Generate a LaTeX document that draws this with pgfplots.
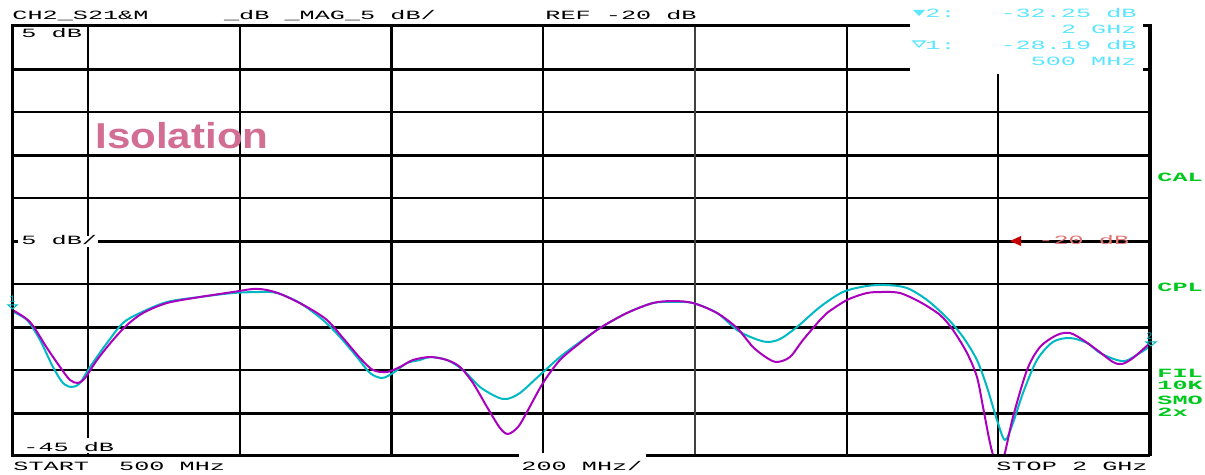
\documentclass[border=0pt]{standalone}
\usepackage{pgfplots}
\pgfplotsset{compat=1.18}
\usepackage{fontspec}
\setmainfont{Liberation Sans}
\newfontfamily\monof{Liberation Mono}
% wide analyser-style lettering, 15 px pitch
\newcommand\hp[1]{\scalebox{2}[1]{\monof\fontsize{6.3}{7}\selectfont #1}}
\newcommand\hpb[1]{\scalebox{2}[1]{\monof\bfseries\fontsize{6.3}{7}\selectfont #1}}

\definecolor{trmag}{RGB}{170,0,190}
\definecolor{trcyan}{RGB}{0,185,195}
\definecolor{mkcyan}{RGB}{90,230,255}
\definecolor{stgreen}{RGB}{0,200,30}
\definecolor{isopink}{RGB}{210,110,145}
\definecolor{refred}{RGB}{200,0,0}

\begin{document}
\begin{tikzpicture}[x=0.5pt,y=-0.5pt]
\useasboundingbox (0,0) rectangle (1205,475);
\begin{axis}[
    at={(6pt,-228pt)}, anchor=south west,
    width=569pt, height=215pt, scale only axis,
    xmin=500, xmax=2000, ymin=-45, ymax=5,
    hide axis, clip=true,
]
% graticule
\foreach \yy in {-35,-25,-15,-5} {
  \edef\tmp{\noexpand\draw[black, line width=1pt] (axis cs:500,\yy) -- (axis cs:2000,\yy);}\tmp
}
\foreach \yy in {-40,-30,-20,-10,0} {
  \edef\tmp{\noexpand\draw[black, line width=1.5pt] (axis cs:500,\yy) -- (axis cs:2000,\yy);}\tmp
}
\foreach \xx in {600,800,1200,1600,1800} {
  \edef\tmp{\noexpand\draw[black, line width=1pt] (axis cs:\xx,-45) -- (axis cs:\xx,5);}\tmp
}
\draw[black, line width=1.5pt] (axis cs:1000,-45) -- (axis cs:1000,5);
\draw[black!75, line width=1pt] (axis cs:1400,-45) -- (axis cs:1400,5);

% trace 2 (cyan)
\addplot[trcyan, line width=1pt, smooth, tension=0.5] coordinates {
(500,-28.19) (519.8,-29.19) (536.9,-31.51) (554.0,-34.65) (567.2,-36.51)
(579.1,-36.98) (589.6,-36.51) (602.8,-34.65) (625.2,-31.86) (646.3,-29.53)
(668.7,-28.37) (704.3,-27.09) (747.8,-26.51) (791.3,-26.05) (826.9,-25.93)
(849.3,-26.05) (879.6,-27.21) (909.9,-29.19) (932.3,-31.16) (954.7,-33.49)
(971.9,-35.35) (987.7,-35.93) (1002.2,-35.35) (1020.6,-34.19) (1037.8,-33.84)
(1051.0,-33.49) (1073.4,-33.84) (1094.5,-35.00) (1116.9,-36.98) (1139.3,-38.14)
(1152.4,-38.37) (1169.6,-37.67) (1195.9,-35.58) (1222.3,-33.49) (1248.7,-31.74)
(1275.0,-30.12) (1310.6,-28.37) (1344.9,-27.21) (1371.3,-27.09) (1397.6,-27.21)
(1429.3,-28.37) (1455.6,-30.35) (1476.7,-31.28) (1495.2,-31.74) (1512.3,-31.40)
(1534.7,-30.00) (1565.0,-27.67) (1595.3,-25.93) (1626.9,-25.23) (1653.3,-25.12)
(1679.7,-25.47) (1706.1,-26.86) (1732.4,-28.95) (1753.5,-31.16) (1771.9,-33.84)
(1785.1,-36.98) (1798.3,-40.81) (1808.8,-43.14) (1819.4,-41.16) (1832.6,-37.67)
(1851.0,-33.84) (1872.1,-31.74) (1894.5,-31.28) (1916.9,-31.86) (1934.1,-33.02)
(1956.5,-33.84) (1971.0,-33.84) (2000,-32.25)
};
% trace 1 (magenta)
\addplot[trmag, line width=1pt, smooth, tension=0.5] coordinates {
(500,-28.00) (523.7,-29.42) (546.1,-32.44) (563.3,-34.65) (576.4,-36.16)
(587.0,-36.51) (596.2,-35.93) (612.0,-33.84) (633.1,-31.51) (651.6,-29.77)
(672.7,-28.37) (704.3,-27.21) (747.8,-26.51) (791.3,-25.93) (817.7,-25.58)
(836.1,-25.70) (857.2,-26.28) (888.8,-27.67) (915.2,-29.19) (936.3,-31.28)
(958.7,-33.60) (975.8,-35.00) (994.3,-35.23) (1011.4,-34.65) (1028.5,-33.84)
(1051.0,-33.49) (1073.4,-33.84) (1090.5,-34.65) (1107.6,-36.51) (1126.1,-39.30)
(1143.2,-41.74) (1153.8,-42.44) (1167.0,-41.63) (1178.8,-39.88) (1199.9,-36.51)
(1222.3,-33.84) (1248.7,-31.86) (1275.0,-30.12) (1310.6,-28.37) (1344.9,-27.21)
(1371.3,-26.98) (1397.6,-27.21) (1429.3,-28.37) (1455.6,-30.12) (1476.7,-32.33)
(1495.2,-33.60) (1508.3,-34.07) (1525.5,-33.49) (1542.6,-31.51) (1565.0,-29.19)
(1574.2,-28.37) (1600.6,-26.86) (1626.9,-26.05) (1648.0,-25.93) (1670.4,-26.05)
(1696.8,-27.09) (1723.2,-28.60) (1740.3,-30.35) (1758.8,-33.02) (1771.9,-35.81)
(1779.9,-39.30) (1789.1,-43.49) (1795.7,-45.40) (1806.2,-45.40) (1819.4,-40.47)
(1837.9,-35.00) (1855.0,-32.33) (1877.4,-30.93) (1894.5,-30.70) (1911.7,-31.51)
(1930.1,-32.67) (1951.2,-34.07) (1963.1,-34.30) (1977.6,-33.60) (2000,-31.86)
};
\end{axis}

% marker panel blanks the upper right corner
\fill[white] (910,0) rectangle (1148,74);
% frame
\draw[line width=1.5pt] (910,26) -- (12,26) -- (12,456) -- (1150,456);
\draw[line width=2pt] (1150,24.5) -- (1150,456);
\draw[line width=1.5pt] (1143,25.5) -- (1150,25.5);
\draw[line width=1.5pt] (1143,70) -- (1150,70);

\tikzset{lab/.style={anchor=base west, inner sep=0pt}}
% header
\node[lab] at (12,20) {\hp{CH2\_S21\&M~~~~~\_dB~\_MAG\_5~dB/}};
\node[lab] at (545,20) {\hp{REF~-20~dB}};
% marker readout
\fill[mkcyan] (913,10) -- (925,10) -- (919,16) -- cycle;
\node[lab, text=mkcyan] at (925,18) {\hp{2:}};
\node[lab, anchor=base east, text=mkcyan] at (1137,18) {\hp{-32.25~dB}};
\node[lab, anchor=base east, text=mkcyan] at (1137,34) {\hp{2~GHz}};
\draw[mkcyan, line width=0.6pt] (913,41) -- (925,41) -- (919,47) -- cycle;
\node[lab, text=mkcyan] at (925,50) {\hp{1:}};
\node[lab, anchor=base east, text=mkcyan] at (1137,50) {\hp{-28.19~dB}};
\node[lab, anchor=base east, text=mkcyan] at (1137,66) {\hp{500~MHz}};
% scale labels
\node[lab] at (21,38) {\hp{5~dB}};
\fill[white] (18,236) rectangle (98,247);
\node[lab] at (21,245) {\hp{5~dB/}};
\fill[white] (20,438) rectangle (112,453);
\node[lab] at (23,452) {\hp{-45~dB}};
% bottom line
\node[lab] at (13,471) {\hp{START~~500~MHz}};
\fill[white] (519,453) rectangle (646,474);
\node[lab] at (521,471) {\hp{200~MHz/}};
\node[lab] at (996,471) {\hp{STOP~2~GHz}};
% status annotations
\node[lab, text=stgreen] at (1157,182) {\hpb{CAL}};
\node[lab, text=stgreen] at (1157,292) {\hpb{CPL}};
\node[lab, text=stgreen] at (1157,378) {\hpb{FIL}};
\node[lab, text=stgreen] at (1157,390) {\hpb{10K}};
\node[lab, text=stgreen] at (1157,405) {\hpb{SMO}};
\node[lab, text=stgreen] at (1157,417) {\hpb{2x}};
% reference level arrow
\fill[refred] (1010,241) -- (1021,236) -- (1021,246) -- cycle;
\node[lab, text=refred!55] at (1038,245) {\hp{-20~dB}};
% marker tags on the traces
\node[lab, text=trcyan] at (9,303) {\monof\fontsize{5}{5}\selectfont 1};
\draw[trcyan, line width=0.5pt] (8,305) -- (17,305) -- (12.5,309) -- cycle;
\node[lab, text=trcyan] at (1146,340) {\monof\fontsize{5}{5}\selectfont 2};
\draw[trcyan, line width=0.5pt] (1146,342) -- (1156,342) -- (1151,346) -- cycle;
% title
\node[lab, text=isopink] at (95,149) {\scalebox{1.17}[1]{\bfseries\fontsize{18}{20}\selectfont Isolation}};
\end{tikzpicture}
\end{document}
